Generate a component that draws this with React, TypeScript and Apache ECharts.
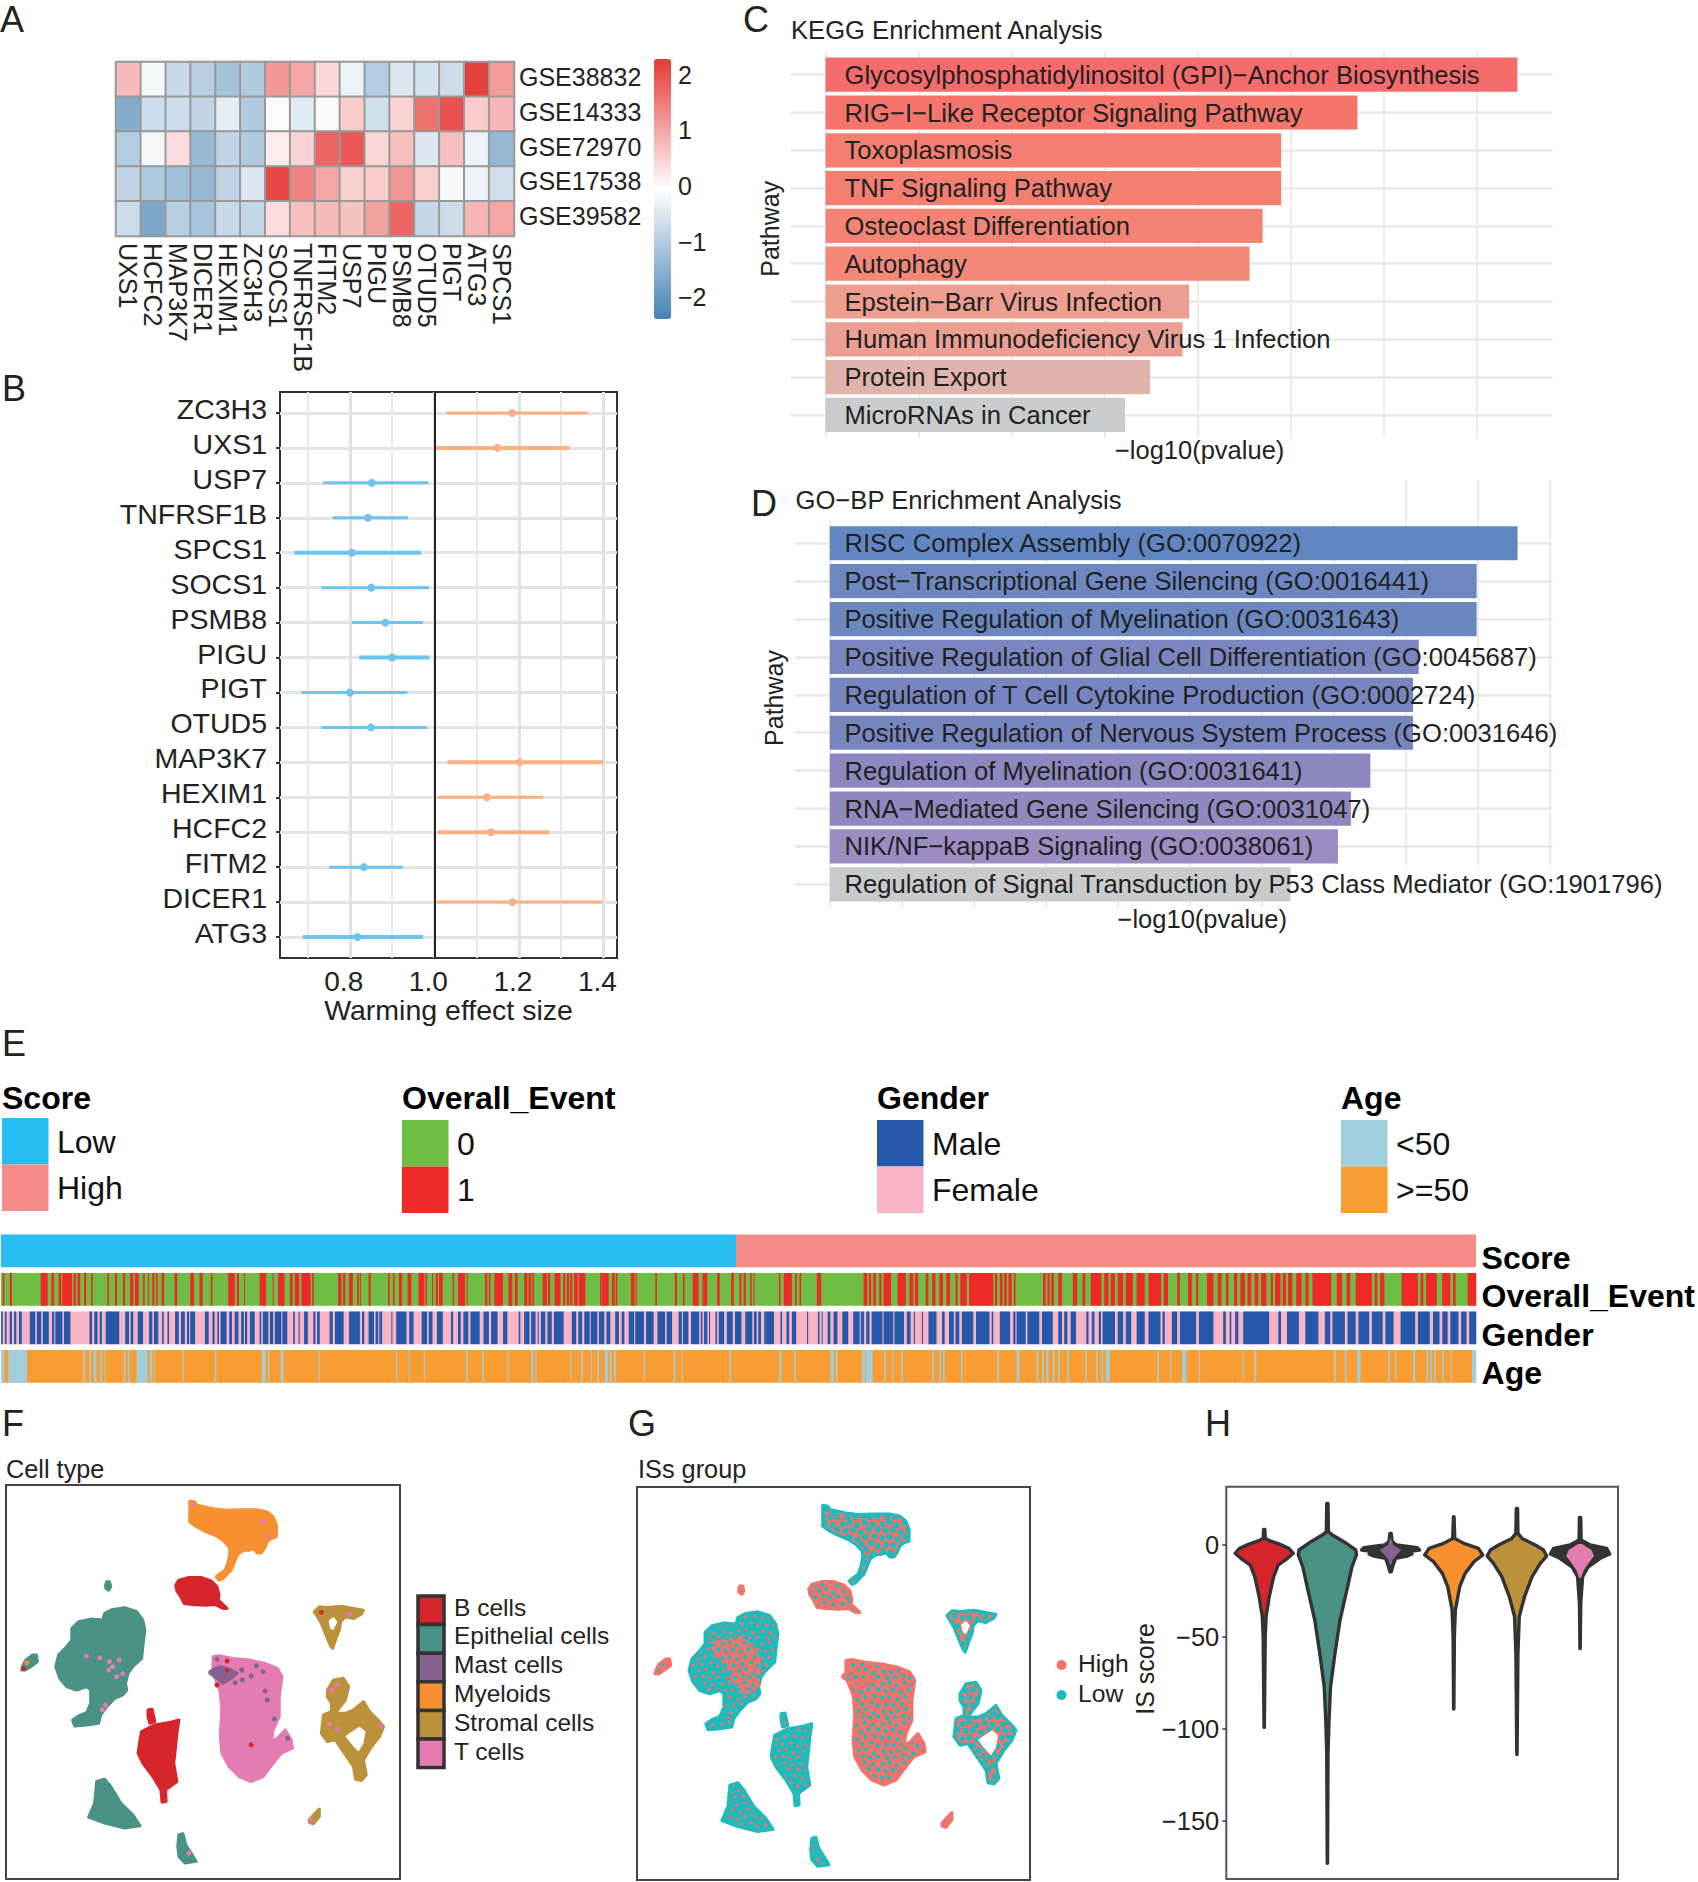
import React, { useEffect, useRef } from "react";
import * as echarts from "echarts";

const FONT = '"Liberation Sans", Arial, sans-serif';
const INK = "#222222";

// ---------- A: heatmap
const heatGenes = ["UXS1","HCFC2","MAP3K7","DICER1","HEXIM1","ZC3H3","SOCS1","TNFRSF1B","FITM2","USP7","PIGU","PSMB8","OTUD5","PIGT","ATG3","SPCS1"];
const heatSets = ["GSE38832","GSE14333","GSE72970","GSE17538","GSE39582"];
const heatGSE38832 = [0.75,-0.2,-0.75,-0.95,-1.2,-1.05,1.15,1.0,0.4,-0.3,-1.0,-0.5,-0.6,-0.7,2.2,1.1];
const heatGSE14333 = [-1.6,-0.7,-0.7,-0.85,-0.4,-1.05,0,-0.45,0.02,0.55,-0.65,0.45,1.6,2.0,0.55,0.8];
const heatGSE72970 = [-1.0,-0.2,0.35,-1.35,-0.85,-1.05,0.15,0.45,1.75,1.9,0.4,0.7,-0.5,0.7,-0.3,-1.4];
const heatGSE17538 = [-0.85,-1.05,-1.25,-1.4,-0.85,-0.5,2.1,1.4,1.0,0.5,0.55,1.2,0.5,-0.15,-0.3,-0.65];
const heatGSE39582 = [-0.7,-1.7,-0.95,-1.15,-0.75,-0.8,0.35,0.7,0.75,0.65,1.05,1.75,-0.8,-0.7,0.8,1.0];
const heatRows = [heatGSE38832,heatGSE14333,heatGSE72970,heatGSE17538,heatGSE39582];
const heatTicks = [-2,-1,0,1,2];

// ---------- B: forest
const forestGenes = ["ZC3H3","UXS1","USP7","TNFRSF1B","SPCS1","SOCS1","PSMB8","PIGU","PIGT","OTUD5","MAP3K7","HEXIM1","HCFC2","FITM2","DICER1","ATG3"];
const forestLow =  [1.029,1.004,0.737,0.760,0.669,0.733,0.805,0.822,0.686,0.733,1.031,1.008,1.008,0.751,1.005,0.689];
const forestMid =  [1.184,1.149,0.852,0.843,0.805,0.851,0.884,0.900,0.800,0.850,1.202,1.124,1.134,0.833,1.185,0.818];
const forestHigh = [1.364,1.320,0.986,0.938,0.968,0.987,0.973,0.988,0.936,0.983,1.399,1.257,1.272,0.925,1.397,0.973];
const forestThick = ["UXS1","SPCS1","PIGU","HCFC2","ATG3","MAP3K7"];

// ---------- C / D: enrichment
const keggNames = ["Glycosylphosphatidylinositol (GPI)−Anchor Biosynthesis","RIG−I−Like Receptor Signaling Pathway","Toxoplasmosis","TNF Signaling Pathway","Osteoclast Differentiation","Autophagy","Epstein−Barr Virus Infection","Human Immunodeficiency Virus 1 Infection","Protein Export","MicroRNAs in Cancer"];
const keggValues = [3.72,2.86,2.45,2.45,2.35,2.28,1.955,1.92,1.745,1.61];
const keggColors = ["#F66B6C","#F5746C","#F47F70","#F47F70","#F38375","#F38778","#EE9E90","#EB9F92","#E0B3AC","#C9CBCC"];
const goNames = ["RISC Complex Assembly (GO:0070922)","Post−Transcriptional Gene Silencing (GO:0016441)","Positive Regulation of Myelination (GO:0031643)","Positive Regulation of Glial Cell Differentiation (GO:0045687)","Regulation of T Cell Cytokine Production (GO:0002724)","Positive Regulation of Nervous System Process (GO:0031646)","Regulation of Myelination (GO:0031641)","RNA−Mediated Gene Silencing (GO:0031047)","NIK/NF−kappaB Signaling (GO:0038061)","Regulation of Signal Transduction by P53 Class Mediator (GO:1901796)"];
const goValues = [4.776,4.492,4.492,4.09,4.05,4.05,3.754,3.619,3.529,3.199];
const goColors = ["#6187C2","#6C87C1","#6A87BF","#7986C0","#7786C0","#7886C0","#8A88BF","#8F89C0","#9B8CC1","#C8CACB"];

// ---------- E: annotation strips (read as [from, to] along the ordered samples, two crops)
const sampleCount = 1476;
const scoreSplit = 736;
const eventOnesLeft = [[5,8],[18,22],[75,88],[95,100],[108,113],[115,133],[136,140],[143,148],[155,159],[168,171],[198,201],[212,216],[227,231],[240,246],[249,256],[264,267],[273,275],[281,285],[288,291],[298,303],[322,327],[351,358],[368,374],[389,392],[421,433],[437,441],[450,452],[479,491],[503,505],[513,525],[535,540],[544,552],[556,573],[576,579],[624,630],[633,637],[644,651],[659,662],[664,666],[680,684],[716,719],[725,728],[736,742],[752,759],[772,783],[785,788],[797,799],[804,808],[810,817],[835,838],[845,858],[861,863],[895,899],[902,905],[912,928],[938,945],[950,955],[967,973],[975,980],[982,985],[1001,1009],[1011,1015],[1023,1034],[1039,1043],[1046,1050],[1052,1056],[1059,1066],[1068,1080],[1107,1110],[1111,1123],[1129,1134],[1136,1139],[1164,1171],[1173,1175],[1209,1212],[1245,1249],[1260,1263],[1278,1289],[1296,1305],[1323,1328],[1349,1354],[1364,1368],[1372,1376],[1384,1387],[1390,1392],[1437,1440],[1446,1461],[1467,1470],[1475,1478],[1507,1515]];
const eventOnesRight = [[25,32],[35,39],[43,48],[54,58],[62,76],[88,103],[110,117],[120,126],[140,145],[152,158],[165,172],[178,185],[195,199],[204,216],[220,265],[268,272],[277,282],[285,290],[293,299],[303,306],[357,362],[365,369],[372,377],[385,392],[412,420],[430,435],[445,465],[470,478],[482,490],[495,505],[510,523],[530,545],[552,575],[580,588],[605,610],[625,632],[640,644],[660,672],[680,687],[695,700],[710,716],[722,730],[735,742],[748,755],[760,770],[778,782],[786,796],[800,806],[810,818],[825,835],[842,848],[855,890],[900,910],[918,925],[935,965],[970,975],[980,988],[1020,1050],[1055,1060],[1065,1085],[1095,1110],[1115,1120],[1142,1158]];
const maleLeft = [[2,5],[9,12],[18,22],[26,30],[35,40],[55,65],[68,76],[79,90],[96,100],[102,115],[118,130],[165,170],[174,180],[184,188],[195,220],[231,238],[241,246],[254,264],[275,281],[284,292],[299,302],[309,312],[323,330],[334,341],[345,349],[351,360],[378,385],[392,396],[401,404],[407,418],[423,428],[433,440],[445,450],[452,456],[461,470],[479,482],[485,495],[498,504],[507,519],[521,530],[541,544],[551,553],[561,568],[578,582],[585,590],[608,614],[618,634],[644,664],[668,672],[680,690],[693,698],[700,705],[722,724],[731,750],[755,763],[778,788],[791,798],[806,817],[832,836],[845,850],[855,864],[868,885],[892,902],[906,918],[928,936],[957,960],[967,977],[980,988],[992,994],[998,1006],[1010,1018],[1022,1040],[1055,1063],[1067,1074],[1078,1088],[1090,1102],[1105,1115],[1119,1126],[1135,1142],[1147,1152],[1160,1170],[1172,1188],[1192,1206],[1213,1227],[1230,1240],[1252,1258],[1260,1270],[1275,1290],[1293,1296],[1299,1305],[1308,1310],[1320,1323],[1326,1336],[1341,1352],[1356,1368],[1375,1388],[1391,1396],[1399,1404],[1410,1428],[1440,1443],[1451,1456],[1461,1469],[1489,1491],[1509,1512],[1516,1518],[1527,1532],[1538,1545],[1554,1565]];
const maleRight = [[6,18],[20,26],[30,36],[40,60],[62,80],[82,100],[105,112],[118,120],[133,135],[145,160],[170,175],[183,192],[195,202],[207,228],[233,258],[262,265],[277,296],[302,306],[308,325],[328,350],[355,375],[385,392],[396,402],[408,418],[437,441],[447,452],[460,464],[467,490],[495,505],[510,520],[530,545],[552,574],[578,582],[595,605],[610,640],[645,672],[690,695],[702,705],[712,718],[727,775],[792,797],[808,830],[842,866],[878,888],[892,915],[920,935],[940,960],[965,985],[990,1005],[1018,1045],[1050,1072],[1078,1090],[1095,1105],[1110,1125],[1130,1140],[1145,1158]];
const youngLeft = [[2,8],[15,50],[154,157],[165,168],[173,178],[185,188],[193,195],[228,231],[236,239],[252,272],[276,280],[283,285],[337,339],[396,399],[483,490],[495,497],[518,523],[588,590],[731,733],[754,756],[782,784],[860,863],[890,893],[936,938],[980,984],[988,990],[1052,1054],[1072,1075],[1090,1092],[1102,1105],[1116,1122],[1125,1128],[1133,1136],[1188,1190],[1243,1246],[1258,1260],[1346,1349],[1438,1442],[1465,1468],[1532,1538],[1542,1545]];
const youngRight = [[22,28],[30,42],[63,66],[78,80],[95,98],[152,155],[165,168],[172,175],[205,208],[272,275],[308,313],[345,348],[355,358],[363,367],[375,378],[385,388],[402,405],[435,438],[455,458],[465,468],[473,480],[568,571],[592,594],[614,622],[645,647],[726,728],[748,751],[895,898],[915,918],[938,944],[995,998],[1008,1010],[1041,1045],[1066,1069],[1073,1076],[1080,1083],[1095,1098],[1111,1113],[1150,1158]];
const stripRows = ["Score","Overall_Event","Gender","Age"];
const stripColors = { low:"#27BDF0", high:"#F68C87", zero:"#6FBD44", one:"#EE2A29", male:"#2558A8", female:"#F8B4C4", young:"#9FCEDD", old:"#F99D33" };

// ---------- F / G: cluster outlines in UMAP coordinates
const cellTypes = ["B cells","Epithelial cells","Mast cells","Myeloids","Stromal cells","T cells"];
const cellColors = ["#D7262B","#4A9186","#85628F","#F79030","#BC913B","#E47CB2"];
const outlineMyeloid = [[472,92],[485,95],[490,105],[530,115],[560,120],[600,118],[640,118],[665,125],[680,140],[688,165],[688,200],[675,205],[665,215],[658,235],[650,248],[640,248],[630,235],[618,240],[610,240],[600,245],[590,255],[582,280],[575,300],[565,312],[555,325],[545,330],[538,320],[548,310],[560,300],[568,275],[572,245],[570,230],[555,210],[535,195],[505,180],[490,170],[472,155]];
const outlineBTop = [[437,345],[445,330],[470,322],[500,322],[525,332],[540,350],[545,375],[543,390],[555,403],[565,415],[555,415],[535,403],[510,405],[480,403],[458,400],[450,380],[440,362]];
const outlineEpiSpot = [[265,335],[272,335],[275,350],[270,360],[263,355],[262,345]];
const outlineEpiBig = [[260,430],[280,418],[310,413],[340,425],[355,450],[360,480],[355,530],[352,565],[330,590],[318,610],[312,640],[315,660],[305,675],[285,685],[265,710],[250,735],[245,760],[215,765],[185,768],[180,750],[195,738],[215,728],[225,700],[225,660],[215,650],[190,660],[165,650],[148,625],[138,590],[145,555],[165,530],[178,510],[178,475],[195,455],[225,447],[255,450]];
const outlineBTail = [[368,720],[378,718],[385,755],[372,760],[368,740]];
const outlineBLow = [[352,785],[385,765],[425,757],[445,750],[440,790],[435,850],[432,880],[440,935],[412,960],[413,995],[403,997],[400,960],[380,920],[355,880],[343,850],[348,810]];
const outlineT = [[530,560],[545,557],[580,565],[620,570],[660,580],[690,595],[702,620],[695,680],[695,740],[680,780],[675,815],[690,805],[710,780],[725,810],[728,835],[700,850],[680,880],[655,920],[625,935],[595,920],[570,890],[552,850],[548,800],[552,720],[548,665],[540,640],[530,610]];
const outlineMast = [[522,605],[535,595],[550,590],[575,600],[590,610],[575,625],[555,640],[540,625],[522,610]];
const outlineStromalTop = [[782,425],[795,410],[815,412],[850,408],[880,415],[905,420],[900,432],[880,445],[860,440],[848,455],[845,480],[838,500],[828,535],[822,525],[810,490],[800,460],[790,440]];
const outlineStromalLow = [[815,660],[830,630],[855,625],[868,650],[860,690],[850,705],[835,730],[860,730],[880,720],[905,695],[920,725],[945,755],[955,770],[945,800],[925,830],[905,870],[912,915],[900,932],[885,928],[880,890],[860,855],[835,810],[815,815],[800,790],[805,735],[825,725],[825,700],[815,680]];
const outlineStromalTail = [[770,1050],[785,1030],[795,1018],[795,1040],[780,1062],[770,1058]];
const outlineEpiBottom = [[240,935],[260,928],[275,950],[300,1000],[330,1035],[348,1068],[310,1075],[260,1060],[220,1042],[235,1000]];
const outlineEpiSmall = [[445,1095],[455,1092],[462,1125],[488,1175],[460,1180],[445,1160],[442,1130]];
const outlineEpiLeft = [[55,590],[62,572],[80,555],[90,555],[92,575],[75,590],[62,600],[53,600]];
const holeStromal = [[870,790],[895,770],[910,785],[905,820],[893,845],[880,830],[860,800]];
const holeStromalTop = [[818,452],[830,440],[840,455],[830,480],[822,475]];
const regionEpiHigh = [[188,504],[264,484],[299,514],[317,554],[317,594],[313,644],[281,664],[246,624],[232,584],[201,539]];
// [outline, cell type index, ISs mix]
const clusters: any[] = [
  [outlineMyeloid,3,"even"],[outlineBTop,0,"high"],[outlineEpiSpot,1,"high"],[outlineEpiBig,1,"low"],
  [outlineBTail,0,"low"],[outlineBLow,0,"low"],[outlineT,5,"high"],[outlineMast,2,"high"],
  [outlineStromalTop,4,"even"],[outlineStromalLow,4,"even"],[outlineStromalTail,4,"high"],
  [outlineEpiBottom,1,"low"],[outlineEpiSmall,1,"low"],[outlineEpiLeft,1,"high"],
];
const holes = [holeStromal,holeStromalTop];
const strayPink = [[480,102],[655,155],[667,198],[870,433],[215,558],[248,563],[272,575],[296,570],[270,600],[280,590],[305,610],[290,620],[262,705],[254,720],[825,660],[840,645],[820,763],[840,778],[948,767],[772,1051],[470,1150],[538,565]];
const strayRed = [[800,427],[58,595],[565,573],[540,645],[625,825],[565,602]];
const strayMast = [[540,568],[602,600],[638,587],[655,605],[625,618],[603,630],[585,638],[660,663],[665,690],[683,747],[716,805]];
const strayOrange = [[66,578]];
const speckleDots = [[4,6],[14,3],[25,8],[37,4],[49,7],[57,14],[8,16],[19,15],[31,18],[43,14],[52,24],[3,27],[14,26],[26,29],[38,25],[47,34],[9,37],[20,38],[33,36],[56,39],[5,47],[16,49],[28,46],[39,44],[50,50],[11,57],[23,56],[35,54],[45,57],[57,55]];
const groupColors = { High:"#F0736C", Low:"#1FBABB" };

// ---------- H: violins, [IS score, half width]
const violinNames = cellTypes;
const violinB = [[8.5,.01],[3.6,.016],[2.4,.08],[0.5,.24],[-1.8,.39],[-4.5,.46],[-7.2,.37],[-10.9,.22],[-17.2,.15],[-28.1,.08],[-38.9,.03],[-49.8,.016],[-99.1,.002]];
const violinEpi = [[22.6,.01],[7.2,.016],[5.4,.08],[1.8,.26],[-2.7,.45],[-5.4,.46],[-11.8,.39],[-22.6,.32],[-40.8,.2],[-58.9,.12],[-77,.05],[-95.1,.026],[-113.2,.01],[-173,.002]];
const violinMast = [[6.3,.01],[1.8,.026],[0,.095],[-1.4,.42],[-2.7,.46],[-3.8,.21],[-4.9,.34],[-6,.26],[-7.2,.08],[-10.9,.04],[-14.5,.01]];
const violinMyeloid = [[15.4,.005],[3.6,.016],[0.9,.16],[-1.8,.39],[-5.4,.46],[-9.1,.32],[-15.4,.18],[-22.6,.095],[-35.3,.026],[-49.8,.01],[-89.1,.002]];
const violinStromal = [[19.9,.01],[6.3,.016],[3.6,.08],[0,.29],[-2.7,.42],[-6,.47],[-10,.37],[-17.2,.24],[-28.1,.12],[-38.9,.037],[-58.9,.016],[-113.8,.002]];
const violinT = [[15,.01],[2.7,.016],[0,.16],[-1.8,.42],[-4.9,.47],[-7.2,.32],[-11.8,.13],[-17.2,.04],[-31.7,.01],[-56.2,.002]];
const violinProfiles = [violinB,violinEpi,violinMast,violinMyeloid,violinStromal,violinT];
// visible coloured core inside the dense dark outline of the two narrow violins
const coreMast = [[3.6,.01],[0,.04],[-2.7,.17],[-5.4,.095],[-8.1,.03],[-10.9,.01]];
const coreT = [[.5,.03],[-2.7,.18],[-6,.22],[-9.1,.15],[-13.6,.06],[-18.1,.01]];
const violinCores: any = { 2: coreMast, 5: coreT };
const scoreTicks = [0,-50,-100,-150];

const minus = (v: any) => String(v).replace("-", "−");

function speckle(bg: string, dot: string, r: number) {
  const dots = speckleDots.map(([x, y]) => `<circle cx="${x}" cy="${y}" r="${r}" fill="${dot}"/>`).join("");
  const svg = `<svg xmlns="http://www.w3.org/2000/svg" width="40" height="40" viewBox="0 0 60 60"><rect width="60" height="60" fill="${bg}"/>${dots}</svg>`;
  return { image: "data:image/svg+xml;utf8," + encodeURIComponent(svg), repeat: "repeat", imageWidth: 40, imageHeight: 40 };
}

function buildOption() {
  const grid: any[] = [], xAxis: any[] = [], yAxis: any[] = [], series: any[] = [], g: any[] = [];
  const addGrid = (box: number[], extra: any = {}) => {
    grid.push({ left: box[0], top: box[1], width: box[2], height: box[3], ...extra });
    return grid.length - 1;
  };
  const text = (t: string, x: number, y: number, size: number, extra: any = {}) =>
    g.push({ type: "text", z: 50, silent: true, style: { x, y, text: t, fontSize: size, fontFamily: FONT, fill: INK, align: "left", verticalAlign: "middle", ...extra } });
  const rect = (x: number, y: number, w: number, h: number, style: any, z = 40) =>
    g.push({ type: "rect", z, silent: true, shape: { x, y, width: w, height: h }, style });

  // Panel letters
  ([["A",0,19],["B",2,388],["C",743,19],["D",751,503],["E",2,1043],["F",2,1423],["G",628,1423],["H",1205,1423]] as any[])
    .forEach(([t, x, y]) => text(t, x, y, 36));

  // ---- A
  const ga = addGrid([116, 62, 398, 174]);
  xAxis.push({ gridIndex: ga, type: "category", data: heatGenes, position: "bottom",
    axisLine: { show: false }, axisTick: { show: false },
    axisLabel: { rotate: -90, fontSize: 25, color: INK, margin: 7, interval: 0, fontFamily: FONT } });
  yAxis.push({ gridIndex: ga, type: "category", data: heatSets, inverse: true, position: "right", show: false });
  const heatData: number[][] = [];
  heatRows.forEach((row, r) => row.forEach((v, c) => heatData.push([c, r, v])));
  series.push({ type: "heatmap", name: "heat", xAxisIndex: xAxis.length - 1, yAxisIndex: yAxis.length - 1, data: heatData,
    itemStyle: { borderColor: "#999999", borderWidth: 2 } });
  const heatSeries = series.length - 1;
  const gaLabels = addGrid([116, 59.6, 398, 174]);
  xAxis.push({ gridIndex: gaLabels, type: "value", show: false, min: 0, max: 1 });
  yAxis.push({ gridIndex: gaLabels, type: "category", data: heatSets, inverse: true, position: "right",
    axisLine: { show: false }, axisTick: { show: false },
    axisLabel: { fontSize: 25, color: INK, margin: 5, interval: 0, fontFamily: FONT } });
  const gc = addGrid([654, 59, 17, 260]);
  xAxis.push({ gridIndex: gc, type: "value", show: false, min: 0, max: 1 });
  yAxis.push({ gridIndex: gc, type: "value", position: "right", min: -2.39, max: 2.28,
    axisLine: { show: false }, splitLine: { show: false },
    axisTick: { show: false, customValues: heatTicks },
    axisLabel: { customValues: heatTicks, fontSize: 25, color: INK, margin: 7, formatter: minus, fontFamily: FONT } });

  // ---- B
  const gb = addGrid([280, 392, 337, 566], { show: true, borderColor: "#333333", borderWidth: 2, backgroundColor: "#fff" });
  const majorX = [0.8,1.0,1.2,1.4], minorX = [0.7,0.9,1.1,1.3];
  xAxis.push({ gridIndex: gb, type: "value", min: 0.635, max: 1.432, position: "bottom",
    name: "Warming effect size", nameLocation: "middle", nameGap: 37, nameTextStyle: { fontSize: 28.5, color: INK, fontFamily: FONT },
    axisLine: { show: false }, axisTick: { show: false, customValues: majorX },
    axisLabel: { customValues: majorX, fontSize: 28, color: INK, margin: 9, padding: [0,12,0,0], formatter: (v: number) => v.toFixed(1), fontFamily: FONT },
    splitLine: { show: true, lineStyle: { color: "#E2E2E2", width: 3 } } });
  const bx = xAxis.length - 1;
  xAxis.push({ gridIndex: gb, type: "value", min: 0.635, max: 1.432, position: "top",
    axisLine: { show: false }, axisLabel: { show: false }, axisTick: { show: false, customValues: minorX },
    splitLine: { show: true, lineStyle: { color: "#E9E9E9", width: 2 } } });
  const rowIdx = forestGenes.map((_, i) => i);
  yAxis.push({ gridIndex: gb, type: "value", inverse: true, min: -0.6, max: 15.6,
    axisLine: { show: false }, axisLabel: { show: false },
    axisTick: { show: true, length: 4, customValues: rowIdx, lineStyle: { color: "#333", width: 2 } },
    splitLine: { show: true, lineStyle: { color: "#E4E4E4", width: 3 } } });
  const by = yAxis.length - 1;
  const gbLabels = addGrid([280, 388, 337, 566]);
  xAxis.push({ gridIndex: gbLabels, type: "value", show: false, min: 0, max: 1 });
  yAxis.push({ gridIndex: gbLabels, type: "value", inverse: true, min: -0.6, max: 15.6,
    axisLine: { show: false }, splitLine: { show: false }, axisTick: { show: false, customValues: rowIdx },
    axisLabel: { customValues: rowIdx, fontSize: 28.5, color: INK, margin: 13, formatter: (v: number) => forestGenes[v] ?? "", fontFamily: FONT } });
  const fColor = (v: number) => (v > 1 ? "#FBB083" : "#6CC5EF");
  series.push({ type: "custom", name: "CI", xAxisIndex: bx, yAxisIndex: by, clip: false,
    data: forestGenes.map((_, i) => [forestLow[i], forestHigh[i], i]),
    encode: { x: [0, 1], y: 2 },
    renderItem: (_p: any, api: any) => {
      const a = api.coord([api.value(0), api.value(2)]), b = api.coord([api.value(1), api.value(2)]);
      const thick = forestThick.includes(forestGenes[api.value(2)]);
      return { type: "line", shape: { x1: a[0], y1: a[1], x2: b[0], y2: b[1] },
        style: { stroke: fColor(api.value(1)), lineWidth: thick ? 4 : 3 } };
    } });
  series.push({ type: "scatter", name: "Effect", xAxisIndex: bx, yAxisIndex: by, symbolSize: 8,
    data: forestGenes.map((_, i) => [forestMid[i], i]),
    itemStyle: { color: (p: any) => fColor(p.value[0]), opacity: 1 },
    markLine: { silent: true, symbol: "none", label: { show: false }, data: [{ xAxis: 1 }],
      lineStyle: { color: "#222", width: 2, type: "solid" } } });

  // ---- C, D
  const enrich = (opt: any) => {
    const { left, right, rowTop, pitch, bgTop, bgBottom, yMin, zero, unit, names, values, colors, gridVals, labelGap, titleGap, xNameGap, xNamePad, yNamePad } = opt;
    const xMin = (left - zero) / unit, xMax = (right - zero) / unit;
    const gBg = addGrid([left, bgTop, right - left, bgBottom - bgTop]);
    xAxis.push({ gridIndex: gBg, type: "value", min: xMin, max: xMax,
      name: "−log10(pvalue)", nameLocation: "middle", nameGap: xNameGap, nameTextStyle: { fontSize: 25.5, color: INK, fontFamily: FONT, padding: xNamePad },
      axisLine: { show: false }, axisLabel: { show: false }, axisTick: { show: false, customValues: gridVals },
      splitLine: { show: true, lineStyle: { color: "#E6E6E6", width: 1.5 } } });
    const rows = names.map((_: any, i: number) => i);
    yAxis.push({ gridIndex: gBg, type: "value", inverse: true, min: yMin, max: 9.6,
      name: "Pathway", nameLocation: "middle", nameGap: titleGap, nameTextStyle: { fontSize: 25, color: INK, fontFamily: FONT, padding: yNamePad },
      axisLine: { show: false }, axisLabel: { show: false }, axisTick: { show: false, customValues: rows },
      splitLine: { show: true, lineStyle: { color: "#E8E8E8", width: 2.5 } } });
    const gFg = addGrid([left, rowTop, right - left, pitch * 10]);
    xAxis.push({ gridIndex: gFg, type: "value", min: xMin, max: xMax, show: false });
    yAxis.push({ gridIndex: gFg, type: "category", data: names, inverse: true, show: false });
    series.push({ type: "bar", xAxisIndex: xAxis.length - 1, yAxisIndex: yAxis.length - 1, barWidth: 34.2,
      data: values.map((v: number, i: number) => ({ value: v, itemStyle: { color: colors[i] } })),
      label: { show: true, position: "insideLeft", distance: labelGap, formatter: "{b}", color: INK, fontSize: 25.6, fontFamily: FONT } });
  };
  enrich({ left: 790.7, right: 1552.5, rowTop: 55.8, pitch: 37.8, bgTop: 52, bgBottom: 437.6, yMin: -0.6, zero: 825.5, unit: 186,
    names: keggNames, values: keggValues, colors: keggColors, gridVals: [0,0.5,1,1.5,2,2.5,3,3.5], labelGap: 19, titleGap: 8, xNameGap: -1, xNamePad: [0,0,0,56], yNamePad: [0,0,0,32] });
  enrich({ left: 795, right: 1552.5, rowTop: 524.3, pitch: 37.9, bgTop: 480, bgBottom: 907, yMin: -1.67, zero: 829.8, unit: 144,
    names: goNames, values: goValues, colors: goColors, gridVals: [0,0.5,1,1.5,2,2.5,3,3.5,4,4.5,5], labelGap: 14.7, titleGap: 9, xNameGap: -1, xNamePad: [0,0,0,57], yNamePad: [0,9,0,0] });
  text("KEGG Enrichment Analysis", 791, 30, 25.6);
  text("GO−BP Enrichment Analysis", 795.6, 500, 25.6);
  rect(785, 476, 605, 45, { fill: "#fff" }, 1);
  rect(1292, 865, 270, 44, { fill: "#fff" }, 1);

  // ---- E legend
  const legendGroups: any[] = [
    ["Score", 2, 1118, [["Low", stripColors.low], ["High", stripColors.high]]],
    ["Overall_Event", 402, 1120, [["0", stripColors.zero], ["1", stripColors.one]]],
    ["Gender", 877, 1120, [["Male", stripColors.male], ["Female", stripColors.female]]],
    ["Age", 1341, 1120, [["<50", stripColors.young], [">=50", stripColors.old]]],
  ];
  legendGroups.forEach(([title, x, y, items]) => {
    text(title, x, 1098, 32, { fontWeight: "bold", fill: "#000" });
    items.forEach(([label, color]: any[], i: number) => {
      rect(x, y + i * 46.5, 46.5, 46.5, { fill: color });
      text(label, x + 55, y + 24 + i * 46, 32, { fill: "#111" });
    });
  });

  // ---- E strips
  const ge = addGrid([1, 1231.6, 1475, 154]);
  xAxis.push({ gridIndex: ge, type: "value", min: 1, max: sampleCount, show: false });
  yAxis.push({ gridIndex: ge, type: "category", data: stripRows, inverse: true, show: false });
  const stripX = xAxis.length - 1, stripY = yAxis.length - 1;
  const geLabels = addGrid([1, 1238.6, 1475, 154]);
  xAxis.push({ gridIndex: geLabels, type: "value", min: 1, max: sampleCount, show: false });
  yAxis.push({ gridIndex: geLabels, type: "category", data: stripRows, inverse: true, position: "right",
    axisLine: { show: false }, axisTick: { show: false },
    axisLabel: { fontSize: 32, fontWeight: "bold", color: "#000", margin: 10, interval: 0, fontFamily: FONT } });
  const fromLeft = (u: number) => u / 1.845;
  const fromRight = (u: number) => 850 + u / 1.849;
  const runs = (left: number[][], right: number[][], row: number, key: string) => [
    ...left.map(([a, b]) => [fromLeft(a), fromLeft(b), row, key]),
    ...right.map(([a, b]) => [fromRight(a), fromRight(b), row, key]),
  ];
  const stripData: any[] = [
    [1, scoreSplit, 0, "low"], [scoreSplit, sampleCount, 0, "high"],
    [1, sampleCount, 1, "zero"], ...runs(eventOnesLeft, eventOnesRight, 1, "one"),
    [1, sampleCount, 2, "female"], ...runs(maleLeft, maleRight, 2, "male"),
    [1, sampleCount, 3, "old"], ...runs(youngLeft, youngRight, 3, "young"),
  ];
  series.push({ type: "custom", name: "Annotation", xAxisIndex: stripX, yAxisIndex: stripY,
    data: stripData.map((d) => [d[0], d[1], d[2]]), encode: { x: [0, 1], y: 2 }, clip: false,
    renderItem: (p: any, api: any) => {
      const a = api.coord([api.value(0), api.value(2)]), b = api.coord([api.value(1), api.value(2)]);
      const h = api.size([0, 1])[1] * 0.85;
      const key = stripData[p.dataIndex][3] as keyof typeof stripColors;
      return { type: "rect", shape: { x: a[0], y: a[1] - h / 2, width: b[0] - a[0], height: h }, style: { fill: stripColors[key] } };
    } });

  // ---- F, G
  const umap = (box: number[], dx: number, dy: number) => {
    const gi = addGrid(box, { show: true, borderColor: "#444", borderWidth: 2 });
    xAxis.push({ gridIndex: gi, type: "value", show: false, min: 14 - dx, max: 996 - dx });
    yAxis.push({ gridIndex: gi, type: "value", show: false, inverse: true, min: 44 - dy, max: 1228 - dy });
    return [xAxis.length - 1, yAxis.length - 1];
  };
  const polySeries = (ax: number[], name: string, shapes: number[][][], fill: (i: number) => any, edge?: (i: number) => string) => {
    series.push({ type: "custom", name, xAxisIndex: ax[0], yAxisIndex: ax[1], clip: false,
      data: shapes.map((_, i) => [shapes[i][0][0], shapes[i][0][1]]), encode: { x: 0, y: 1 },
      renderItem: (p: any, api: any) => ({ type: "polygon",
        shape: { points: shapes[p.dataIndex].map((pt) => api.coord(pt)) },
        style: { fill: fill(p.dataIndex), stroke: edge ? edge(p.dataIndex) : undefined, lineWidth: edge ? 3 : 0, lineJoin: "round" } }) });
  };
  const axF = umap([6, 1485, 394, 394], 0, 0);
  polySeries(axF, "Cell type", clusters.map((c) => c[0]), (i) => cellColors[clusters[i][1]], (i) => cellColors[clusters[i][1]]);
  polySeries(axF, "Holes", holes, () => "#fff");
  ([[strayPink, cellColors[5]], [strayRed, cellColors[0]], [strayMast, cellColors[2]], [strayOrange, cellColors[3]]] as any[]).forEach(([d, c]) =>
    series.push({ type: "scatter", xAxisIndex: axF[0], yAxisIndex: axF[1], data: d, symbolSize: 5, itemStyle: { color: c, opacity: 1 } }));
  text("Cell type", 6, 1469, 25.3);
  cellTypes.forEach((name, i) => {
    rect(418, 1596 + i * 28.6, 26, 28.6, { fill: cellColors[i], stroke: "#333", lineWidth: 3.5 });
    text(name, 454, 1607 + i * 28.8, 24.5);
  });

  const axG = umap([637, 1487, 393, 393], 6, 7);
  const patterns: any = {
    even: speckle(groupColors.High, groupColors.Low, 4.5),
    high: speckle(groupColors.High, groupColors.Low, 3.2),
    low: speckle(groupColors.Low, groupColors.High, 2.6),
  };
  const edgeOf: any = { even: groupColors.Low, high: groupColors.High, low: groupColors.Low };
  polySeries(axG, "ISs group", clusters.map((c) => c[0]), (i) => patterns[clusters[i][2]], (i) => edgeOf[clusters[i][2]]);
  polySeries(axG, "ISs high region", [regionEpiHigh], () => patterns.high);
  polySeries(axG, "Holes", holes, () => "#fff");
  text("ISs group", 638, 1469, 25.3);
  ([["High", groupColors.High, 1665], ["Low", groupColors.Low, 1695]] as any[]).forEach(([t, c, y]) => {
    g.push({ type: "circle", z: 40, silent: true, shape: { cx: 1061.5, cy: y, r: 5 }, style: { fill: c } });
    text(t, 1078, y - 2, 24.7);
  });

  // ---- H
  const gh = addGrid([1226.3, 1486.7, 391.7, 392.3], { show: true, borderColor: "#555", borderWidth: 2 });
  xAxis.push({ gridIndex: gh, type: "value", show: false, min: 0.4, max: 6.6 });
  yAxis.push({ gridIndex: gh, type: "value", min: -181.5, max: 31.7,
    name: "IS score", nameLocation: "middle", nameGap: 63, nameTextStyle: { fontSize: 25, color: INK, fontFamily: FONT, padding: [0,0,0,28] },
    axisLine: { show: false }, splitLine: { show: false },
    axisTick: { show: true, length: 4, customValues: scoreTicks, lineStyle: { color: "#333", width: 1.5 } },
    axisLabel: { customValues: scoreTicks, fontSize: 25.5, color: INK, margin: 7, formatter: minus, fontFamily: FONT } });
  series.push({ type: "custom", name: "IS score", xAxisIndex: xAxis.length - 1, yAxisIndex: yAxis.length - 1, clip: false,
    data: violinNames.map((_, i) => [i + 1, 0]), encode: { x: 0, y: 1 },
    renderItem: (p: any, api: any) => {
      const c = p.dataIndex + 1;
      const outline = (prof: number[][]) => [...prof.map(([s, h]) => api.coord([c + h, s])), ...[...prof].reverse().map(([s, h]) => api.coord([c - h, s]))];
      const core = violinCores[p.dataIndex];
      const children: any[] = [{ type: "polygon", shape: { points: outline(violinProfiles[p.dataIndex]) },
        style: { fill: core ? "#333" : cellColors[p.dataIndex], stroke: "#333", lineWidth: 3.4, lineJoin: "round" } }];
      if (core) children.push({ type: "polygon", shape: { points: outline(core) }, style: { fill: cellColors[p.dataIndex] } });
      return { type: "group", children };
    } });

  return {
    animation: false, backgroundColor: "#ffffff",
    textStyle: { fontFamily: FONT },
    grid, xAxis, yAxis, series,
    visualMap: [{ type: "continuous", seriesIndex: heatSeries, min: -2.39, max: 2.28, left: 654, top: 59, padding: 0, itemWidth: 17, itemHeight: 260,
      calculable: false, text: undefined, showLabel: false, hoverLink: false, inRange: { color: ["#4682B4", "#FFFFFF", "#E53935"] }, textStyle: { color: "rgba(0,0,0,0)", fontSize: 1 } }],
    graphic: { elements: g },
  };
}

export default function App() {
  const ref = useRef<HTMLDivElement>(null);
  useEffect(() => {
    const chart = echarts.init(ref.current!, undefined, { renderer: "svg" });
    chart.setOption(buildOption() as any);
    return () => chart.dispose();
  }, []);
  return <div ref={ref} style={{ position: "absolute", left: 0, top: 0, width: 1698, height: 1882 }} />;
}
